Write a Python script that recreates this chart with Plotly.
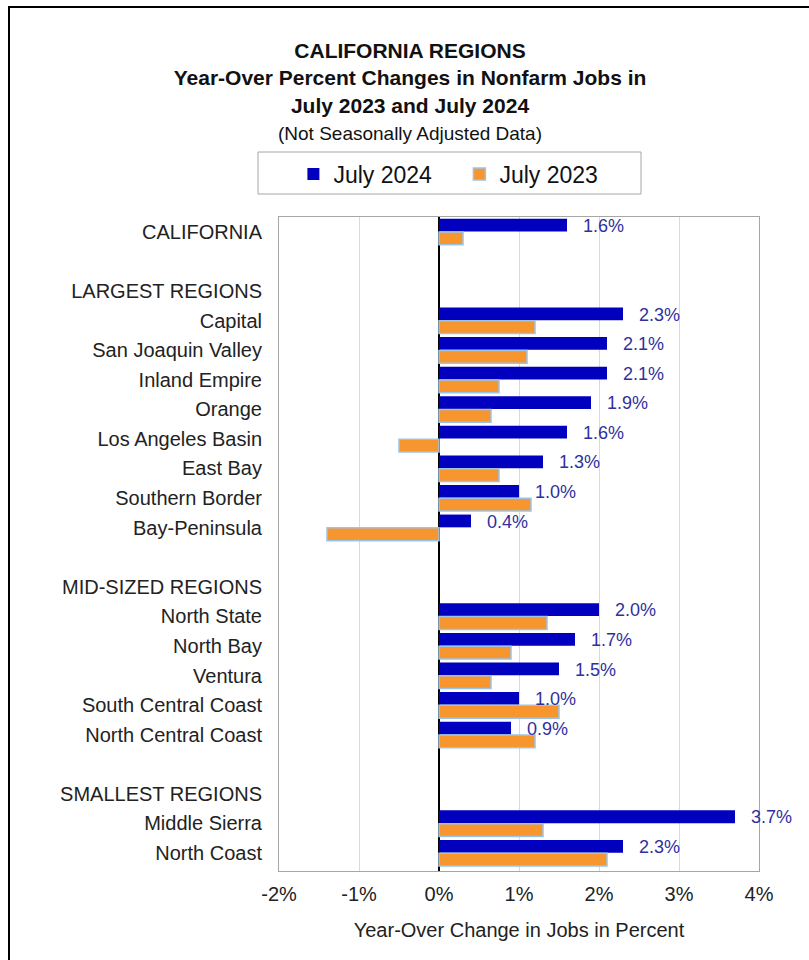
import plotly.graph_objects as go

# ---- data ----
categories = [
    "CALIFORNIA", " ",
    "LARGEST REGIONS", "Capital", "San Joaquin Valley", "Inland Empire", "Orange",
    "Los Angeles Basin", "East Bay", "Southern Border", "Bay-Peninsula", "  ",
    "MID-SIZED REGIONS", "North State", "North Bay", "Ventura", "South Central Coast",
    "North Central Coast", "   ",
    "SMALLEST REGIONS", "Middle Sierra", "North Coast",
]
july_2024 = [
    1.6, None,
    None, 2.3, 2.1, 2.1, 1.9, 1.6, 1.3, 1.0, 0.4, None,
    None, 2.0, 1.7, 1.5, 1.0, 0.9, None,
    None, 3.7, 2.3,
]
july_2023 = [
    0.3, None,
    None, 1.2, 1.1, 0.75, 0.65, -0.5, 0.75, 1.15, -1.4, None,
    None, 1.35, 0.9, 0.65, 1.5, 1.2, None,
    None, 1.3, 2.1,
]
x_tick_vals = [-2, -1, 0, 1, 2, 3, 4]
x_tick_labels = ["-2%", "-1%", "0%", "1%", "2%", "3%", "4%"]

FONT = "Liberation Sans, Arial, sans-serif"
BLUE = "#0000BE"
ORANGE = "#F7962F"
LABEL = "#2F2FA0"

fig = go.Figure()
fig.add_trace(go.Bar(
    name="July 2024", y=categories, x=july_2024, orientation="h",
    marker=dict(color=BLUE, line=dict(width=0)),
))
fig.add_trace(go.Bar(
    name="July 2023", y=categories, x=july_2023, orientation="h",
    marker=dict(color=ORANGE, line=dict(color="#9DC3E6", width=1.5)),
))

annotations = []
for c, v in zip(categories, july_2024):
    if v is None:
        continue
    annotations.append(dict(
        x=v, y=c, xref="x", yref="y", text=f"{v:.1f}%", showarrow=False,
        xanchor="left", yanchor="middle", xshift=14, yshift=6,
        font=dict(family=FONT, size=18, color=LABEL),
    ))

fig.update_layout(
    width=809, height=960,
    margin=dict(l=279, r=50, t=217, b=89),
    paper_bgcolor="white", plot_bgcolor="white",
    barmode="group", bargap=0.1, bargroupgap=0.04,
    font=dict(family=FONT, color="#222222"),
    title=dict(
        text=("<b>CALIFORNIA REGIONS<br>Year-Over Percent Changes in Nonfarm Jobs in<br>"
              "July 2023 and July 2024</b><br>"
              "<span style='font-size:19px'>(Not Seasonally Adjusted Data)</span>"),
        x=410 / 809, xref="container", xanchor="center",
        y=1 - 58 / 960, yref="container", yanchor="top",
        font=dict(family=FONT, size=21, color="#111111"),
    ),
    legend=dict(
        orientation="h", x=0.03, xanchor="left", y=(871 - 174) / 654, yanchor="middle",
        font=dict(family=FONT, size=23, color="#111111"),
        entrywidth=121, entrywidthmode="pixels",
        bgcolor="rgba(0,0,0,0)", borderwidth=0,
        traceorder="normal",
    ),
    xaxis=dict(
        range=[-2, 4], tickvals=x_tick_vals, ticktext=x_tick_labels,
        showgrid=True, gridcolor="#D9D9D9", gridwidth=1,
        zeroline=True, zerolinecolor="black", zerolinewidth=2,
        showline=True, linecolor="#A6A6A6", linewidth=1, mirror=True,
        ticks="", ticklabelstandoff=5,
        tickfont=dict(family=FONT, size=20, color="#222222"),
        title=dict(text="Year-Over Change in Jobs in Percent", standoff=18,
                   font=dict(family=FONT, size=20, color="#222222")),
        fixedrange=True,
    ),
    yaxis=dict(
        type="category", categoryorder="array", categoryarray=categories,
        autorange="reversed",
        showgrid=False, showline=True, linecolor="#A6A6A6", linewidth=1, mirror=True,
        ticks="", ticklabelstandoff=12,
        tickfont=dict(family=FONT, size=20, color="#222222"),
        fixedrange=True,
    ),
    annotations=annotations,
    shapes=[
        dict(type="rect", xref="paper", yref="paper",
             x0=(258 - 279) / 480, x1=(641 - 279) / 480,
             y0=(871 - 194) / 654, y1=(871 - 152) / 654,
             line=dict(color="#A6A6A6", width=1), fillcolor="rgba(0,0,0,0)"),
        dict(type="rect", xref="paper", yref="paper",
             x0=(9 - 279) / 480, x1=(815 - 279) / 480,
             y0=(871 - 966) / 654, y1=(871 - 7) / 654,
             line=dict(color="black", width=2), fillcolor="rgba(0,0,0,0)"),
    ],
)

fig.write_html("out.html")
